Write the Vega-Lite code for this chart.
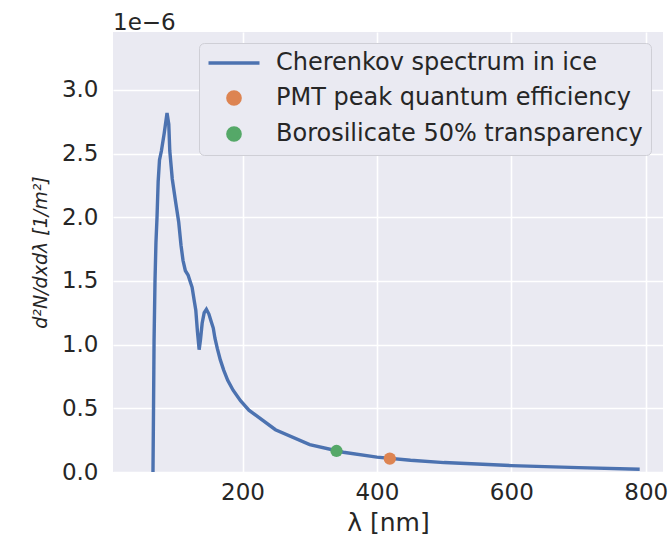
{
  "$schema": "https://vega.github.io/schema/vega-lite/v6.json",
  "autosize": {"type": "none"},
  "padding": {"left": 113, "top": 32, "right": 6, "bottom": 68},
  "width": 550,
  "height": 440,
  "background": "white",
  "title": {"text": "1e−6", "anchor": "start", "frame": "group", "fontSize": 23, "fontWeight": "normal", "color": "#262626", "font": "DejaVu Sans", "offset": -26, "baseline": "bottom"},
  "datasets": {
    "spectrum": [
      {"wl": 66.8, "dn": 0.0, "series": "Cherenkov spectrum in ice"},
      {"wl": 67.6, "dn": 0.5, "series": "Cherenkov spectrum in ice"},
      {"wl": 68.4, "dn": 1.03, "series": "Cherenkov spectrum in ice"},
      {"wl": 69.8, "dn": 1.5, "series": "Cherenkov spectrum in ice"},
      {"wl": 71.2, "dn": 1.8, "series": "Cherenkov spectrum in ice"},
      {"wl": 72.8, "dn": 2.0, "series": "Cherenkov spectrum in ice"},
      {"wl": 74.5, "dn": 2.28, "series": "Cherenkov spectrum in ice"},
      {"wl": 76.5, "dn": 2.45, "series": "Cherenkov spectrum in ice"},
      {"wl": 79.3, "dn": 2.52, "series": "Cherenkov spectrum in ice"},
      {"wl": 83.5, "dn": 2.66, "series": "Cherenkov spectrum in ice"},
      {"wl": 87.7, "dn": 2.818, "series": "Cherenkov spectrum in ice"},
      {"wl": 90.3, "dn": 2.73, "series": "Cherenkov spectrum in ice"},
      {"wl": 91.8, "dn": 2.52, "series": "Cherenkov spectrum in ice"},
      {"wl": 95.5, "dn": 2.3, "series": "Cherenkov spectrum in ice"},
      {"wl": 100.5, "dn": 2.12, "series": "Cherenkov spectrum in ice"},
      {"wl": 105.1, "dn": 1.96, "series": "Cherenkov spectrum in ice"},
      {"wl": 108.5, "dn": 1.78, "series": "Cherenkov spectrum in ice"},
      {"wl": 111.5, "dn": 1.66, "series": "Cherenkov spectrum in ice"},
      {"wl": 115.0, "dn": 1.58, "series": "Cherenkov spectrum in ice"},
      {"wl": 119.0, "dn": 1.546, "series": "Cherenkov spectrum in ice"},
      {"wl": 122.5, "dn": 1.49, "series": "Cherenkov spectrum in ice"},
      {"wl": 125.0, "dn": 1.45, "series": "Cherenkov spectrum in ice"},
      {"wl": 128.0, "dn": 1.35, "series": "Cherenkov spectrum in ice"},
      {"wl": 130.5, "dn": 1.27, "series": "Cherenkov spectrum in ice"},
      {"wl": 133.0, "dn": 1.1, "series": "Cherenkov spectrum in ice"},
      {"wl": 135.5, "dn": 0.96, "series": "Cherenkov spectrum in ice"},
      {"wl": 137.5, "dn": 1.04, "series": "Cherenkov spectrum in ice"},
      {"wl": 140.0, "dn": 1.17, "series": "Cherenkov spectrum in ice"},
      {"wl": 143.0, "dn": 1.25, "series": "Cherenkov spectrum in ice"},
      {"wl": 146.3, "dn": 1.277, "series": "Cherenkov spectrum in ice"},
      {"wl": 150.0, "dn": 1.24, "series": "Cherenkov spectrum in ice"},
      {"wl": 153.5, "dn": 1.18, "series": "Cherenkov spectrum in ice"},
      {"wl": 156.5, "dn": 1.13, "series": "Cherenkov spectrum in ice"},
      {"wl": 159.0, "dn": 1.05, "series": "Cherenkov spectrum in ice"},
      {"wl": 162.5, "dn": 0.97, "series": "Cherenkov spectrum in ice"},
      {"wl": 167.0, "dn": 0.88, "series": "Cherenkov spectrum in ice"},
      {"wl": 172.0, "dn": 0.8, "series": "Cherenkov spectrum in ice"},
      {"wl": 178.0, "dn": 0.72, "series": "Cherenkov spectrum in ice"},
      {"wl": 186.0, "dn": 0.642, "series": "Cherenkov spectrum in ice"},
      {"wl": 197.0, "dn": 0.56, "series": "Cherenkov spectrum in ice"},
      {"wl": 209.5, "dn": 0.485, "series": "Cherenkov spectrum in ice"},
      {"wl": 249.0, "dn": 0.332, "series": "Cherenkov spectrum in ice"},
      {"wl": 300.0, "dn": 0.215, "series": "Cherenkov spectrum in ice"},
      {"wl": 350.0, "dn": 0.155, "series": "Cherenkov spectrum in ice"},
      {"wl": 400.0, "dn": 0.117, "series": "Cherenkov spectrum in ice"},
      {"wl": 450.0, "dn": 0.092, "series": "Cherenkov spectrum in ice"},
      {"wl": 500.0, "dn": 0.074, "series": "Cherenkov spectrum in ice"},
      {"wl": 600.0, "dn": 0.05, "series": "Cherenkov spectrum in ice"},
      {"wl": 700.0, "dn": 0.034, "series": "Cherenkov spectrum in ice"},
      {"wl": 791.0, "dn": 0.022, "series": "Cherenkov spectrum in ice"}
    ],
    "markers": [
      {"wl": 419.2, "dn": 0.105, "series": "PMT peak quantum efficiency"},
      {"wl": 339.9, "dn": 0.165, "series": "Borosilicate 50% transparency"}
    ]
  },
  "encoding": {
    "x": {"field": "wl", "type": "quantitative", "scale": {"domain": [7.3, 825.7], "nice": false, "zero": false},
      "axis": {"values": [200, 400, 600, 800], "title": "λ [nm]", "titleFontSize": 25, "titlePadding": 6, "labelPadding": 9}},
    "y": {"field": "dn", "type": "quantitative", "scale": {"domain": [0, 3.454], "nice": false},
      "axis": {"values": [0, 0.5, 1, 1.5, 2, 2.5, 3], "format": ".1f", "title": "d²N/dxdλ  [1/m²]", "titleFontSize": 19, "titleFontStyle": "italic", "titlePadding": 11, "labelPadding": 15}},
    "color": {"field": "series", "type": "nominal",
      "scale": {"domain": ["Cherenkov spectrum in ice", "PMT peak quantum efficiency", "Borosilicate 50% transparency"], "range": ["#4C72B0", "#DD8452", "#55A868"]},
      "legend": {
        "title": null, "orient": "none", "legendX": 86, "legendY": 11,
        "padding": 8, "symbolOffset": 15, "labelOffset": 30, "rowPadding": 10,
        "labelFontSize": 24, "labelFont": "DejaVu Sans", "labelColor": "#262626", "labelLimit": 500,
        "fillColor": "#EAEAF2", "strokeColor": "#CFCFD6", "cornerRadius": 5,
        "symbolType": "circle", "symbolSize": 151,
        "encode": {"symbols": {"update": {
          "shape": {"signal": "datum.value === 'Cherenkov spectrum in ice' ? 'stroke' : 'circle'"},
          "size": {"signal": "datum.value === 'Cherenkov spectrum in ice' ? 2600 : 151"},
          "stroke": {"signal": "datum.value === 'Cherenkov spectrum in ice' ? '#4C72B0' : null"},
          "strokeWidth": {"value": 3.4},
          "fill": {"signal": "datum.value === 'Cherenkov spectrum in ice' ? null : (datum.value === 'PMT peak quantum efficiency' ? '#DD8452' : '#55A868')"},
          "fillOpacity": {"value": 1},
          "opacity": {"value": 1}
        }}}
      }}
  },
  "layer": [
    {"data": {"name": "spectrum"}, "mark": {"type": "line", "strokeWidth": 3.4, "clip": true}},
    {"data": {"name": "markers"}, "mark": {"type": "point", "filled": true, "size": 151, "opacity": 1}}
  ],
  "config": {
    "font": "DejaVu Sans",
    "view": {"fill": "#EAEAF2", "stroke": null},
    "axis": {"domain": false, "ticks": false, "grid": true, "gridColor": "#FFFFFF", "gridWidth": 1.6, "gridOpacity": 1,
      "labelFontSize": 23, "labelColor": "#262626", "labelFont": "DejaVu Sans", "titleColor": "#262626", "titleFont": "DejaVu Sans", "titleFontWeight": "normal"}
  }
}
